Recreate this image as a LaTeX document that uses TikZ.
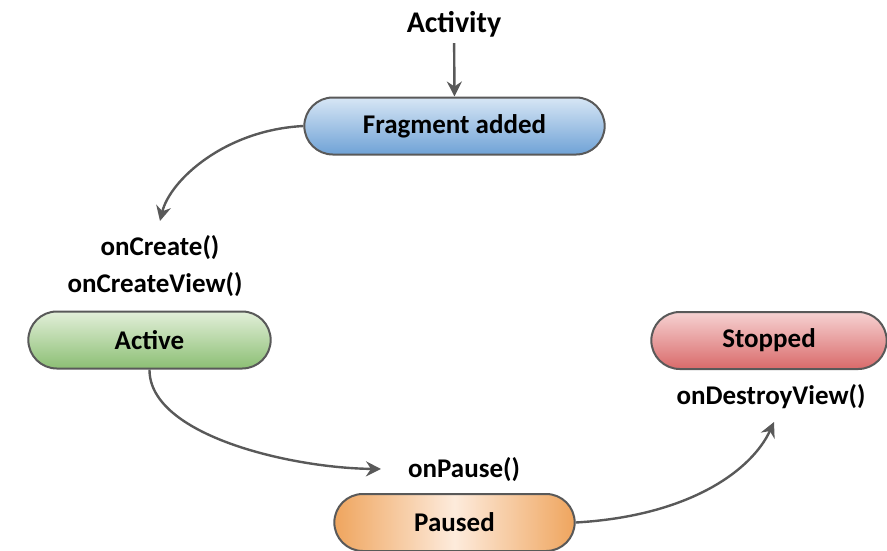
\documentclass[tikz,border=0pt]{standalone}
\usepackage{fontspec}
\setmainfont{Carlito}
\usetikzlibrary{shapes.misc,arrows.meta}
\definecolor{edgegray}{HTML}{595959}
\definecolor{bluetop}{HTML}{D7E6F5}
\definecolor{bluebot}{HTML}{6FA2D6}
\definecolor{greentop}{HTML}{E2EFD9}
\definecolor{greenbot}{HTML}{8CBF74}
\definecolor{redtop}{HTML}{F6D2D2}
\definecolor{redbot}{HTML}{D96A6A}
\definecolor{orangeedge}{HTML}{EFA55E}
\definecolor{orangemid}{HTML}{FDEBDC}
\tikzset{
  state/.style={rounded rectangle, draw=edgegray, line width=2pt,
    minimum height=57pt, font=\fontsize{27}{31}\selectfont\bfseries},
  call/.style={font=\fontsize{27}{31}\selectfont\bfseries, inner sep=0pt},
  flow/.style={draw=edgegray, line width=2.4pt,
    -{Stealth[length=15pt,width=15pt,inset=5pt]}}
}
\begin{document}
\begin{tikzpicture}[x=1pt, y=-1pt]
  \useasboundingbox (0,0) rectangle (887,550);
  \node[call, font=\fontsize{30}{34}\selectfont\bfseries] (act) at (454,24) {Activity};
  \node[state, minimum width=307pt, top color=bluetop, bottom color=bluebot] (frag) at (454.5,126) {Fragment added};
  \node[state, minimum width=249pt, top color=greentop, bottom color=greenbot] (active) at (149.5,340) {Active};
  \node[state, minimum width=242pt, top color=redtop, bottom color=redbot] (stopped) at (769,340.5) {Stopped};
  \node[state, minimum width=247pt, left color=orangeedge, right color=orangeedge, middle color=orangemid] (paused) at (454.5,522.5) {Paused};
  \node[call] (create) at (160,248) {onCreate()};
  \node[call] (createview) at (155,285) {onCreateView()};
  \node[call] (pause) at (464,470) {onPause()};
  \node[call] (destroyview) at (771,397) {onDestroyView()};
  \coordinate (t1) at (160,221);
  \coordinate (t2) at (381,469);
  \coordinate (t3) at (774,422);
    \draw[flow, shorten <=6pt] (act) -- (frag.north) ;
    \draw[flow] (frag.west) .. controls (225,130) and (170,180) .. (t1) ;
    \draw[flow] (active.south) .. controls (149,435) and (290,468) .. (t2) ;
    \draw[flow] (paused.east) .. controls (690,516) and (752,470) .. (t3) ;
\end{tikzpicture}
\end{document}
